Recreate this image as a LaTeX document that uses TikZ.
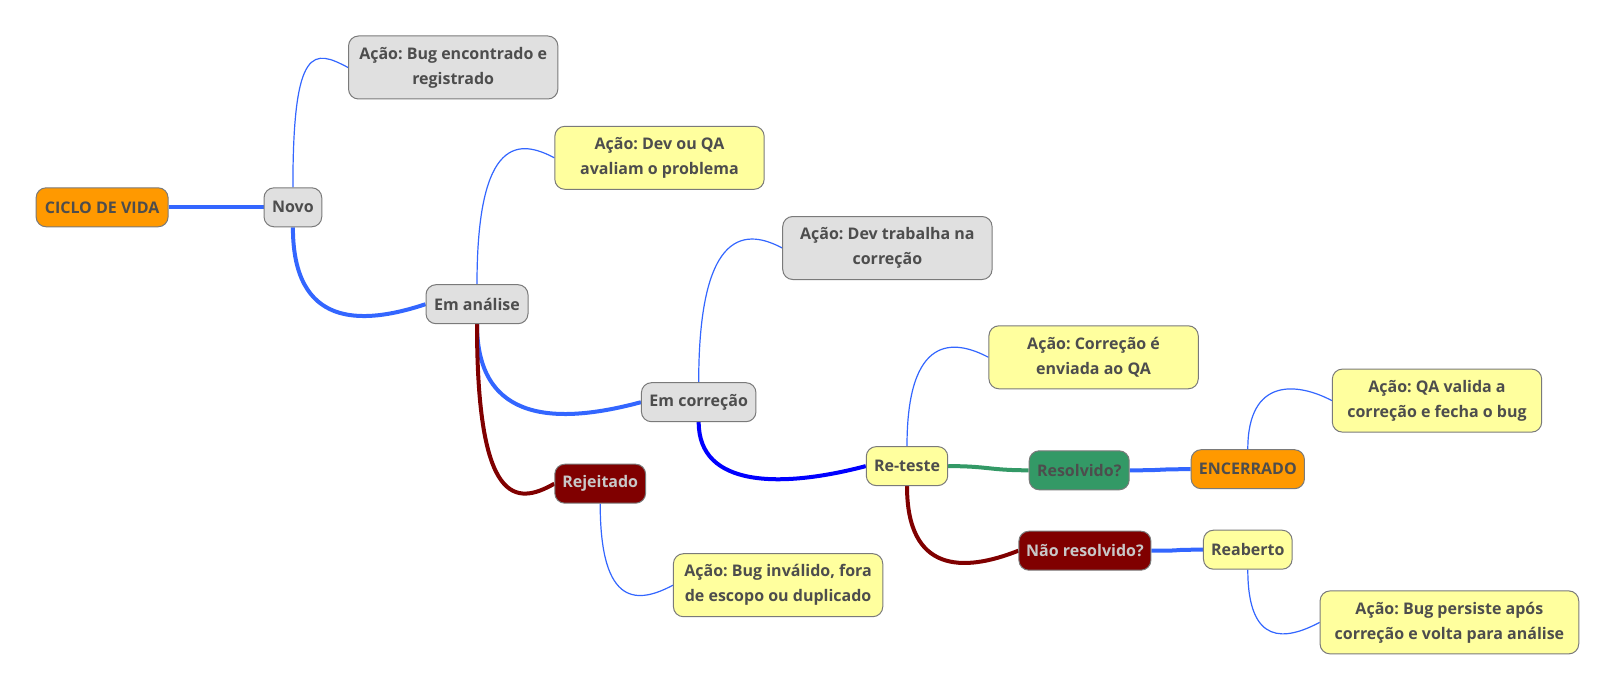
\documentclass[tikz,border=0pt]{standalone}
\usepackage{fontspec}
\setmainfont{Open Sans}
\usetikzlibrary{calc,backgrounds}
\definecolor{txt}{HTML}{4D4D4D}
\definecolor{orng}{HTML}{FF9900}
\definecolor{gry}{HTML}{E0E0E0}
\definecolor{yel}{HTML}{FFFF9E}
\definecolor{dred}{HTML}{800000}
\definecolor{grn}{HTML}{339966}
\definecolor{bord}{HTML}{7A7A7A}
\definecolor{eblue}{HTML}{3366FF}
\definecolor{pblue}{HTML}{0000FF}
\definecolor{lgt}{HTML}{C8C8C8}
\tikzset{
  box/.style={draw=bord, line width=0.75pt, rounded corners=7.5pt, inner sep=0pt,
    minimum height=29.25pt, text=txt, align=center,
    font=\fontsize{12}{18.75}\selectfont\bfseries\frenchspacing},
  two/.style={minimum height=47.25pt, minimum width=157pt},
  thinedge/.style={draw=eblue, line width=0.9pt},
  thickedge/.style={line width=3pt},
}
\newcommand\thinup[2]{\draw[thinedge] (#1.north) .. controls ($(#1.north |- #2.west)+(0,-24)$) and ($(#2.west)+(-34,-18)$) .. (#2.west);}
\newcommand\thindown[2]{\draw[thinedge] (#1.south) .. controls ($(#1.south |- #2.west)+(0,24)$) and ($(#2.west)+(-34,18)$) .. (#2.west);}
\newcommand\thickdown[3]{\draw[thickedge,#3] (#1.south) .. controls ($(#1.south |- #2.west)+(0,22)$) and ($($(#1.south |- #2.west)!0.5!(#2.west)$)+(0,22)$) .. (#2.west);}
\newcommand\thickside[3]{\draw[thickedge,#3] (#1.east) .. controls +(40,0) and +(-40,0) .. (#2.west);}
\begin{document}
\begin{tikzpicture}[x=0.75pt,y=-0.75pt]
\useasboundingbox (0,0) rectangle (1617,692);
\node[box,fill=orng,minimum width=99pt] (ciclo) at (102.1,207.3) {CICLO DE VIDA};
\node[box,fill=gry,minimum width=43.3pt] (novo) at (292.9,207.3) {Novo};
\node[box,two,fill=gry] (a1) at (453.2,67.5) {Ação: Bug encontrado e\\registrado};
\node[box,fill=gry,minimum width=76.5pt] (analise) at (477,304.2) {Em análise};
\node[box,two,fill=yel] (a2) at (659.5,157.8) {Ação: Dev ou QA\\avaliam o problema};
\node[box,fill=gry,minimum width=85.9pt] (correcao) at (698.7,402.2) {Em correção};
\node[box,two,fill=gry] (a3) at (887.4,248) {Ação: Dev trabalha na\\correção};
\node[box,fill=dred,text=lgt,minimum width=68.1pt] (rej) at (600.2,483.7) {Rejeitado};
\node[box,two,fill=yel] (arej) at (778.1,585.2) {Ação: Bug inválido, fora\\de escopo ou duplicado};
\node[box,fill=yel,minimum width=61.1pt] (reteste) at (907,466.1) {Re-teste};
\node[box,two,fill=yel] (a4) at (1093.6,357.3) {Ação: Correção é\\enviada ao QA};
\node[box,fill=grn,minimum width=75pt] (resol) at (1079.2,470.3) {Resolvido?};
\node[box,fill=orng,minimum width=85pt] (enc) at (1247.8,469.2) {ENCERRADO};
\node[box,two,fill=yel] (aqa) at (1437,400.6) {Ação: QA valida a\\correção e fecha o bug};
\node[box,fill=dred,text=lgt,minimum width=99pt] (naores) at (1084.9,550.7) {Não resolvido?};
\node[box,fill=yel,minimum width=66.5pt] (reab) at (1247.8,549.7) {Reaberto};
\node[box,two,fill=yel,minimum width=194pt] (aper) at (1449.4,622.4) {Ação: Bug persiste após\\correção e volta para análise};
\begin{pgfonlayer}{background}
\draw[thickedge,eblue] (ciclo.east) -- (novo.west);
\thinup{novo}{a1}
\thickdown{novo}{analise}{eblue}
\thinup{analise}{a2}
\thickdown{analise}{correcao}{eblue}
\thickdown{analise}{rej}{dred}
\thinup{correcao}{a3}
\thindown{rej}{arej}
\thickdown{correcao}{reteste}{pblue}
\thinup{reteste}{a4}
\thickside{reteste}{resol}{grn}
\thickside{resol}{enc}{eblue}
\thinup{enc}{aqa}
\thickdown{reteste}{naores}{dred}
\thickside{naores}{reab}{eblue}
\thindown{reab}{aper}
\end{pgfonlayer}
\end{tikzpicture}
\end{document}
